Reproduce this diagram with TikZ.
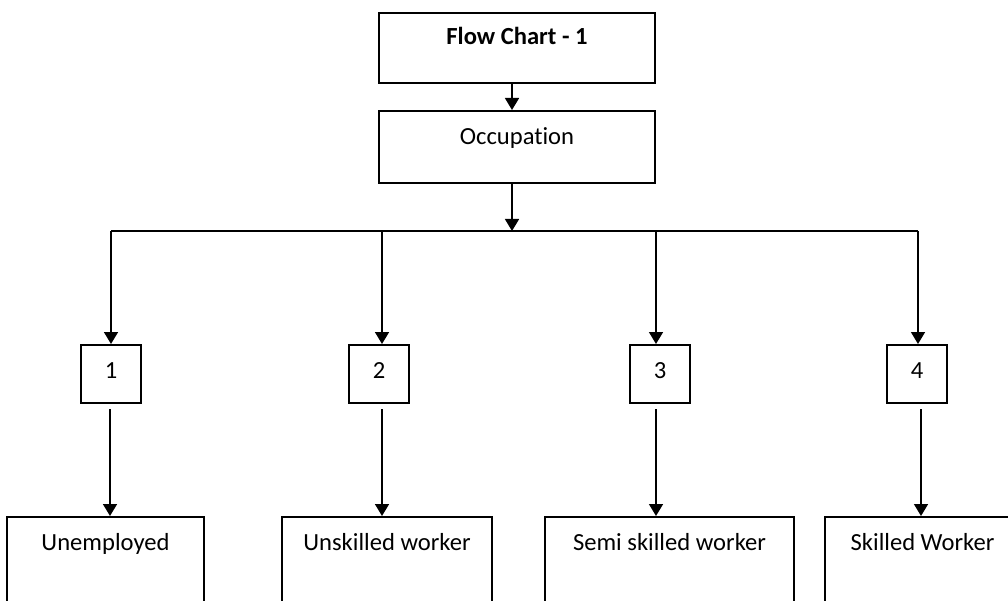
\documentclass[tikz,border=0pt]{standalone}
\usepackage{fontspec}
\setmainfont{Carlito}[Ligatures=NoCommon]
\usetikzlibrary{arrows.meta}
\begin{document}
\begin{tikzpicture}[x=1pt,y=-1pt,
  every node/.style={font=\fontsize{24.6}{29}\selectfont},
  box/.style={draw=black,line width=1.6pt,rectangle,inner sep=0pt,anchor=north,text height=34pt},
  topbox/.style={box,minimum width=276pt,minimum height=70pt},
  numbox/.style={box,minimum width=60pt,minimum height=58pt,text depth=24pt},
  endbox/.style={box,minimum height=110pt,text depth=76pt},
  conn/.style={line width=1.6pt,-{Triangle[width=14pt,length=12pt]}},
  plain/.style={line width=1.6pt}]
\clip (0,0) rectangle (1008,601);
\fill[white] (0,0) rectangle (1008,601);
% top boxes
\node[topbox,text height=32pt,text depth=38pt] (fc) at (517,12) {\textbf{Flow Chart - 1}};
\node[topbox,minimum height=72pt,text depth=38pt] (occ) at (517,110) {Occupation};
% branch line
\coordinate (hub) at (512,231);
\coordinate (h1) at (111,231);
\coordinate (h2) at (382,231);
\coordinate (h3) at (656,231);
\coordinate (h4) at (918,231);
% number boxes
\node[numbox] (n1) at (111,344) {1};
\node[numbox] (n2) at (379,344) {2};
\node[numbox] (n3) at (660,344) {3};
\node[numbox] (n4) at (917,344) {4};
% end boxes
\node[endbox,minimum width=197pt] (e1) at (105.5,516) {Unemployed};
\node[endbox,minimum width=210pt] (e2) at (387,516) {Unskilled worker};
\node[endbox,minimum width=249pt] (e3) at (669.5,516) {Semi skilled worker};
\node[endbox,minimum width=195pt] (e4) at (922.5,516) {Skilled Worker};
% connectors
\draw[conn] (fc.south -| 512,0) -- (occ.north -| 512,0);
\draw[conn] (occ.south -| hub) -- (hub);
\draw[plain] (h1) -- (h4);
\draw[conn] (h1) -- (h1 |- n1.north);
\draw[conn] (h2) -- (h2 |- n2.north);
\draw[conn] (h3) -- (h3 |- n3.north);
\draw[conn] (h4) -- (h4 |- n4.north);
\coordinate (b1) at (110,409);
\coordinate (b2) at (382,409);
\coordinate (b3) at (656,409);
\coordinate (b4) at (921,409);
\draw[conn] (b1) -- (b1 |- e1.north);
\draw[conn] (b2) -- (b2 |- e2.north);
\draw[conn] (b3) -- (b3 |- e3.north);
\draw[conn] (b4) -- (b4 |- e4.north);
\end{tikzpicture}
\end{document}
